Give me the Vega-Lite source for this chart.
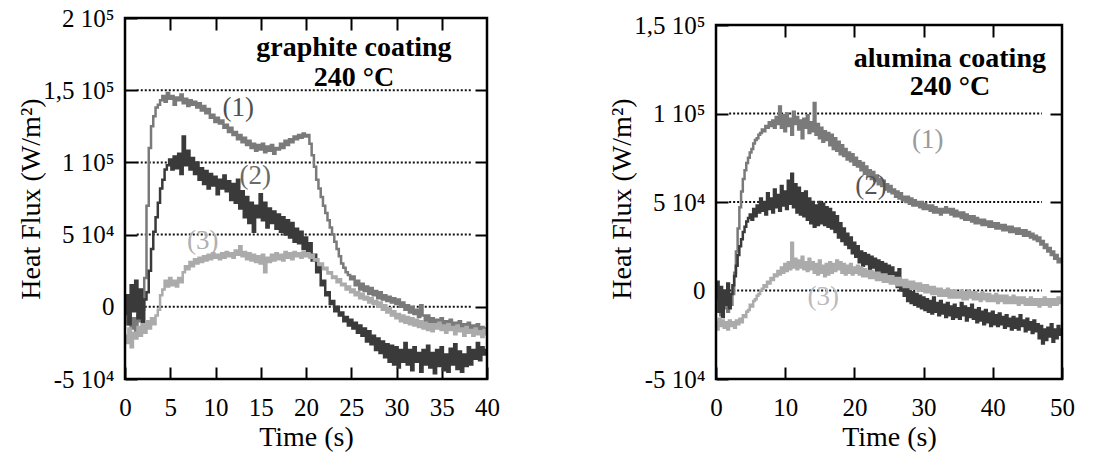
{
"$schema": "https://vega.github.io/schema/vega-lite/v6.json",
"padding": {"left": 17, "top": 6, "right": 2, "bottom": 2},
"spacing": 108,
"config": {
  "font": "Liberation Serif",
  "view": {"stroke": null},
  "axis": {"labelFont": "Liberation Serif", "titleFont": "Liberation Serif", "labelFontSize": 25, "titleFontSize": 28, "titleFontWeight": "normal", "labelColor": "black", "titleColor": "black", "tickColor": "black", "tickWidth": 2, "tickSize": -12, "domain": false, "grid": false, "labelFlush": false, "labelOverlap": false},
  "axisX": {"labelPadding": 28, "titlePadding": 3},
  "axisY": {"labelPadding": 23, "titlePadding": -3}
},
"datasets": {
"left": [
{"t":0,"a":-5e3,"b":-5e3,"c":-20e3},
{"t":0.25,"a":-12e3,"b":8e3,"c":-25e3},
{"t":0.5,"a":-3e3,"b":-12e3,"c":-15e3},
{"t":0.75,"a":-15e3,"b":15e3,"c":-28e3},
{"t":1,"a":-8e3,"b":-3e3,"c":-18e3},
{"t":1.25,"a":-18e3,"b":18e3,"c":-22e3},
{"t":1.5,"a":-6e3,"b":-8e3,"c":-14e3},
{"t":1.75,"a":-10e3,"b":12e3,"c":-20e3},
{"t":2,"a":-2e3,"b":-15e3,"c":-12e3},
{"t":2.25,"a":20e3,"b":5e3,"c":-18e3},
{"t":2.5,"a":70e3,"b":10e3,"c":-10e3},
{"t":2.75,"a":110e3,"b":25e3,"c":-15e3},
{"t":3,"a":125e3,"b":40e3,"c":-8e3},
{"t":3.25,"a":132e3,"b":52e3,"c":-12e3},
{"t":3.5,"a":138e3,"b":62e3,"c":-6e3},
{"t":3.75,"a":140e3,"b":72e3,"c":-2e3},
{"t":4,"a":143e3,"b":82e3,"c":8e3},
{"t":4.25,"a":146e3,"b":88e3,"c":12e3},
{"t":4.5,"a":142e3,"b":95e3,"c":18e3},
{"t":4.75,"a":148e3,"b":98e3,"c":14e3},
{"t":5,"a":144e3,"b":102e3,"c":20e3},
{"t":5.25,"a":146e3,"b":95e3,"c":15e3},
{"t":5.5,"a":140e3,"b":104e3,"c":18e3},
{"t":5.75,"a":145e3,"b":96e3,"c":14e3},
{"t":6,"a":143e3,"b":106e3,"c":20e3},
{"t":6.25,"a":147e3,"b":92e3,"c":17e3},
{"t":6.5,"a":141e3,"b":118e3,"c":24e3},
{"t":6.75,"a":144e3,"b":98e3,"c":28e3},
{"t":7,"a":139e3,"b":108e3,"c":26e3},
{"t":7.25,"a":143e3,"b":95e3,"c":31e3},
{"t":7.5,"a":140e3,"b":103e3,"c":28e3},
{"t":7.75,"a":142e3,"b":92e3,"c":33e3},
{"t":8,"a":138e3,"b":100e3,"c":30e3},
{"t":8.25,"a":141e3,"b":88e3,"c":34e3},
{"t":8.5,"a":136e3,"b":96e3,"c":31e3},
{"t":8.75,"a":139e3,"b":85e3,"c":35e3},
{"t":9,"a":134e3,"b":94e3,"c":32e3},
{"t":9.25,"a":137e3,"b":82e3,"c":36e3},
{"t":9.5,"a":131e3,"b":92e3,"c":33e3},
{"t":9.75,"a":133e3,"b":84e3,"c":37e3},
{"t":10,"a":128e3,"b":90e3,"c":34e3},
{"t":10.25,"a":131e3,"b":78e3,"c":36e3},
{"t":10.5,"a":127e3,"b":88e3,"c":33e3},
{"t":10.75,"a":129e3,"b":82e3,"c":37e3},
{"t":11,"a":124e3,"b":91e3,"c":34e3},
{"t":11.25,"a":126e3,"b":80e3,"c":38e3},
{"t":11.5,"a":121e3,"b":87e3,"c":35e3},
{"t":11.75,"a":124e3,"b":74e3,"c":37e3},
{"t":12,"a":119e3,"b":85e3,"c":34e3},
{"t":12.25,"a":121e3,"b":72e3,"c":39e3},
{"t":12.5,"a":116e3,"b":88e3,"c":36e3},
{"t":12.75,"a":119e3,"b":68e3,"c":42e3},
{"t":13,"a":114e3,"b":80e3,"c":35e3},
{"t":13.25,"a":117e3,"b":62e3,"c":38e3},
{"t":13.5,"a":112e3,"b":76e3,"c":33e3},
{"t":13.75,"a":115e3,"b":58e3,"c":37e3},
{"t":14,"a":110e3,"b":72e3,"c":32e3},
{"t":14.25,"a":113e3,"b":52e3,"c":36e3},
{"t":14.5,"a":108e3,"b":70e3,"c":31e3},
{"t":14.75,"a":112e3,"b":62e3,"c":35e3},
{"t":15,"a":109e3,"b":78e3,"c":30e3},
{"t":15.25,"a":113e3,"b":60e3,"c":36e3},
{"t":15.5,"a":107e3,"b":72e3,"c":24e3},
{"t":15.75,"a":111e3,"b":55e3,"c":34e3},
{"t":16,"a":108e3,"b":68e3,"c":31e3},
{"t":16.25,"a":112e3,"b":58e3,"c":36e3},
{"t":16.5,"a":106e3,"b":66e3,"c":32e3},
{"t":16.75,"a":110e3,"b":54e3,"c":37e3},
{"t":17,"a":109e3,"b":64e3,"c":33e3},
{"t":17.25,"a":113e3,"b":52e3,"c":36e3},
{"t":17.5,"a":110e3,"b":62e3,"c":32e3},
{"t":17.75,"a":115e3,"b":50e3,"c":38e3},
{"t":18,"a":112e3,"b":60e3,"c":34e3},
{"t":18.25,"a":116e3,"b":48e3,"c":37e3},
{"t":18.5,"a":114e3,"b":58e3,"c":33e3},
{"t":18.75,"a":118e3,"b":45e3,"c":38e3},
{"t":19,"a":116e3,"b":54e3,"c":35e3},
{"t":19.25,"a":119e3,"b":44e3,"c":37e3},
{"t":19.5,"a":117e3,"b":52e3,"c":34e3},
{"t":19.75,"a":120e3,"b":40e3,"c":38e3},
{"t":20,"a":118e3,"b":48e3,"c":35e3},
{"t":20.25,"a":119e3,"b":38e3,"c":37e3},
{"t":20.5,"a":113e3,"b":44e3,"c":34e3},
{"t":20.75,"a":105e3,"b":32e3,"c":36e3},
{"t":21,"a":97e3,"b":36e3,"c":32e3},
{"t":21.25,"a":88e3,"b":24e3,"c":33e3},
{"t":21.5,"a":82e3,"b":28e3,"c":29e3},
{"t":21.75,"a":76e3,"b":15e3,"c":30e3},
{"t":22,"a":70e3,"b":18e3,"c":26e3},
{"t":22.25,"a":65e3,"b":8e3,"c":27e3},
{"t":22.5,"a":60e3,"b":10e3,"c":23e3},
{"t":22.75,"a":55e3,"b":2e3,"c":24e3},
{"t":23,"a":50e3,"b":4e3,"c":20e3},
{"t":23.25,"a":45e3,"b":-3e3,"c":21e3},
{"t":23.5,"a":40e3,"b":0,"c":17e3},
{"t":23.75,"a":35e3,"b":-6e3,"c":19e3},
{"t":24,"a":30e3,"b":-4e3,"c":15e3},
{"t":24.25,"a":27e3,"b":-10e3,"c":16e3},
{"t":24.5,"a":24e3,"b":-7e3,"c":12e3},
{"t":24.75,"a":22e3,"b":-13e3,"c":14e3},
{"t":25,"a":19e3,"b":-9e3,"c":10e3},
{"t":25.25,"a":21e3,"b":-15e3,"c":12e3},
{"t":25.5,"a":15e3,"b":-11e3,"c":8e3},
{"t":25.75,"a":18e3,"b":-18e3,"c":10e3},
{"t":26,"a":12e3,"b":-13e3,"c":6e3},
{"t":26.25,"a":16e3,"b":-20e3,"c":9e3},
{"t":26.5,"a":11e3,"b":-15e3,"c":5e3},
{"t":26.75,"a":14e3,"b":-24e3,"c":7e3},
{"t":27,"a":9e3,"b":-17e3,"c":3e3},
{"t":27.25,"a":13e3,"b":-26e3,"c":6e3},
{"t":27.5,"a":8e3,"b":-20e3,"c":2e3},
{"t":27.75,"a":11e3,"b":-30e3,"c":4e3},
{"t":28,"a":6e3,"b":-22e3,"c":0},
{"t":28.25,"a":10e3,"b":-32e3,"c":3e3},
{"t":28.5,"a":5e3,"b":-24e3,"c":-2e3},
{"t":28.75,"a":8e3,"b":-35e3,"c":1e3},
{"t":29,"a":4e3,"b":-26e3,"c":-4e3},
{"t":29.25,"a":7e3,"b":-38e3,"c":-1e3},
{"t":29.5,"a":3e3,"b":-27e3,"c":-6e3},
{"t":29.75,"a":6e3,"b":-40e3,"c":-3e3},
{"t":30,"a":2e3,"b":-28e3,"c":-8e3},
{"t":30.25,"a":5e3,"b":-42e3,"c":-5e3},
{"t":30.5,"a":0,"b":-30e3,"c":-10e3},
{"t":30.75,"a":3e3,"b":-38e3,"c":-6e3},
{"t":31,"a":-2e3,"b":-25e3,"c":-11e3},
{"t":31.25,"a":1e3,"b":-40e3,"c":-7e3},
{"t":31.5,"a":-4e3,"b":-30e3,"c":-12e3},
{"t":31.75,"a":0,"b":-44e3,"c":-8e3},
{"t":32,"a":-5e3,"b":-28e3,"c":-13e3},
{"t":32.25,"a":-2e3,"b":-38e3,"c":-9e3},
{"t":32.5,"a":-7e3,"b":-32e3,"c":-14e3},
{"t":32.75,"a":1e3,"b":-45e3,"c":-10e3},
{"t":33,"a":-6e3,"b":-30e3,"c":-15e3},
{"t":33.25,"a":-10e3,"b":-40e3,"c":-11e3},
{"t":33.5,"a":-6e3,"b":-27e3,"c":-16e3},
{"t":33.75,"a":-11e3,"b":-42e3,"c":-12e3},
{"t":34,"a":-8e3,"b":-32e3,"c":-17e3},
{"t":34.25,"a":-12e3,"b":-46e3,"c":-12e3},
{"t":34.5,"a":-9e3,"b":-30e3,"c":-15e3},
{"t":34.75,"a":-13e3,"b":-41e3,"c":-11e3},
{"t":35,"a":-8e3,"b":-28e3,"c":-16e3},
{"t":35.25,"a":-12e3,"b":-44e3,"c":-13e3},
{"t":35.5,"a":-10e3,"b":-33e3,"c":-18e3},
{"t":35.75,"a":-14e3,"b":-45e3,"c":-12e3},
{"t":36,"a":-9e3,"b":-29e3,"c":-16e3},
{"t":36.25,"a":-13e3,"b":-40e3,"c":-14e3},
{"t":36.5,"a":-11e3,"b":-26e3,"c":-19e3},
{"t":36.75,"a":-15e3,"b":-43e3,"c":-13e3},
{"t":37,"a":-10e3,"b":-31e3,"c":-17e3},
{"t":37.25,"a":-14e3,"b":-45e3,"c":-15e3},
{"t":37.5,"a":-12e3,"b":-33e3,"c":-20e3},
{"t":37.75,"a":-16e3,"b":-41e3,"c":-14e3},
{"t":38,"a":-11e3,"b":-28e3,"c":-18e3},
{"t":38.25,"a":-15e3,"b":-40e3,"c":-16e3},
{"t":38.5,"a":-13e3,"b":-30e3,"c":-20e3},
{"t":38.75,"a":-17e3,"b":-36e3,"c":-15e3},
{"t":39,"a":-12e3,"b":-25e3,"c":-19e3},
{"t":39.25,"a":-16e3,"b":-37e3,"c":-17e3},
{"t":39.5,"a":-14e3,"b":-28e3,"c":-21e3},
{"t":39.75,"a":-18e3,"b":-33e3,"c":-16e3},
{"t":40,"a":-15e3,"b":-30e3,"c":-19e3}
],
"right": [
{"t":0,"a":-5e3,"b":-5e3,"c":-18e3},
{"t":0.25,"a":-12e3,"b":5e3,"c":-22e3},
{"t":0.5,"a":-3e3,"b":-12e3,"c":-16e3},
{"t":0.75,"a":-14e3,"b":2e3,"c":-20e3},
{"t":1,"a":-6e3,"b":-15e3,"c":-17e3},
{"t":1.25,"a":-10e3,"b":0,"c":-21e3},
{"t":1.5,"a":-2e3,"b":-8e3,"c":-18e3},
{"t":1.75,"a":-12e3,"b":4e3,"c":-22e3},
{"t":2,"a":-5e3,"b":-10e3,"c":-17e3},
{"t":2.25,"a":-8e3,"b":-2e3,"c":-20e3},
{"t":2.5,"a":-2e3,"b":3e3,"c":-18e3},
{"t":2.75,"a":10e3,"b":8e3,"c":-21e3},
{"t":3,"a":22e3,"b":14e3,"c":-17e3},
{"t":3.25,"a":35e3,"b":20e3,"c":-19e3},
{"t":3.5,"a":47e3,"b":25e3,"c":-16e3},
{"t":3.75,"a":56e3,"b":29e3,"c":-18e3},
{"t":4,"a":63e3,"b":33e3,"c":-14e3},
{"t":4.25,"a":68e3,"b":36e3,"c":-15e3},
{"t":4.5,"a":72e3,"b":39e3,"c":-12e3},
{"t":4.75,"a":75e3,"b":41e3,"c":-11e3},
{"t":5,"a":78e3,"b":43e3,"c":-8e3},
{"t":5.25,"a":80e3,"b":40e3,"c":-9e3},
{"t":5.5,"a":83e3,"b":46e3,"c":-6e3},
{"t":5.75,"a":85e3,"b":42e3,"c":-5e3},
{"t":6,"a":86e3,"b":48e3,"c":-3e3},
{"t":6.25,"a":88e3,"b":44e3,"c":-2e3},
{"t":6.5,"a":89e3,"b":52e3,"c":0},
{"t":6.75,"a":91e3,"b":45e3,"c":1e3},
{"t":7,"a":90e3,"b":50e3,"c":3e3},
{"t":7.25,"a":93e3,"b":43e3,"c":2e3},
{"t":7.5,"a":92e3,"b":55e3,"c":5e3},
{"t":7.75,"a":95e3,"b":46e3,"c":4e3},
{"t":8,"a":93e3,"b":52e3,"c":7e3},
{"t":8.25,"a":96e3,"b":44e3,"c":6e3},
{"t":8.5,"a":92e3,"b":57e3,"c":9e3},
{"t":8.75,"a":98e3,"b":47e3,"c":8e3},
{"t":9,"a":94e3,"b":54e3,"c":11e3},
{"t":9.25,"a":104e3,"b":45e3,"c":9e3},
{"t":9.5,"a":92e3,"b":59e3,"c":13e3},
{"t":9.75,"a":99e3,"b":48e3,"c":10e3},
{"t":10,"a":90e3,"b":56e3,"c":15e3},
{"t":10.25,"a":100e3,"b":46e3,"c":11e3},
{"t":10.5,"a":93e3,"b":62e3,"c":16e3},
{"t":10.75,"a":97e3,"b":49e3,"c":12e3},
{"t":11,"a":88e3,"b":66e3,"c":27e3},
{"t":11.25,"a":101e3,"b":47e3,"c":13e3},
{"t":11.5,"a":94e3,"b":60e3,"c":18e3},
{"t":11.75,"a":98e3,"b":44e3,"c":12e3},
{"t":12,"a":91e3,"b":58e3,"c":17e3},
{"t":12.25,"a":96e3,"b":43e3,"c":13e3},
{"t":12.5,"a":86e3,"b":55e3,"c":19e3},
{"t":12.75,"a":97e3,"b":42e3,"c":12e3},
{"t":13,"a":92e3,"b":56e3,"c":16e3},
{"t":13.25,"a":99e3,"b":40e3,"c":11e3},
{"t":13.5,"a":89e3,"b":52e3,"c":18e3},
{"t":13.75,"a":95e3,"b":38e3,"c":12e3},
{"t":14,"a":90e3,"b":50e3,"c":16e3},
{"t":14.25,"a":106e3,"b":36e3,"c":10e3},
{"t":14.5,"a":88e3,"b":48e3,"c":15e3},
{"t":14.75,"a":94e3,"b":37e3,"c":9e3},
{"t":15,"a":86e3,"b":50e3,"c":17e3},
{"t":15.25,"a":92e3,"b":38e3,"c":10e3},
{"t":15.5,"a":84e3,"b":49e3,"c":14e3},
{"t":15.75,"a":90e3,"b":37e3,"c":8e3},
{"t":16,"a":85e3,"b":47e3,"c":15e3},
{"t":16.25,"a":89e3,"b":36e3,"c":9e3},
{"t":16.5,"a":82e3,"b":46e3,"c":16e3},
{"t":16.75,"a":88e3,"b":35e3,"c":10e3},
{"t":17,"a":80e3,"b":44e3,"c":15e3},
{"t":17.25,"a":86e3,"b":33e3,"c":11e3},
{"t":17.5,"a":79e3,"b":42e3,"c":17e3},
{"t":17.75,"a":84e3,"b":30e3,"c":12e3},
{"t":18,"a":77e3,"b":38e3,"c":16e3},
{"t":18.25,"a":82e3,"b":28e3,"c":10e3},
{"t":18.5,"a":76e3,"b":35e3,"c":15e3},
{"t":18.75,"a":80e3,"b":26e3,"c":9e3},
{"t":19,"a":74e3,"b":32e3,"c":14e3},
{"t":19.25,"a":78e3,"b":24e3,"c":10e3},
{"t":19.5,"a":73e3,"b":30e3,"c":15e3},
{"t":19.75,"a":77e3,"b":21e3,"c":9e3},
{"t":20,"a":71e3,"b":27e3,"c":13e3},
{"t":20.25,"a":75e3,"b":19e3,"c":10e3},
{"t":20.5,"a":70e3,"b":25e3,"c":14e3},
{"t":20.75,"a":73e3,"b":16e3,"c":9e3},
{"t":21,"a":68e3,"b":22e3,"c":13e3},
{"t":21.25,"a":72e3,"b":14e3,"c":8e3},
{"t":21.5,"a":66e3,"b":21e3,"c":12e3},
{"t":21.75,"a":70e3,"b":15e3,"c":8e3},
{"t":22,"a":65e3,"b":20e3,"c":11e3},
{"t":22.25,"a":68e3,"b":12e3,"c":7e3},
{"t":22.5,"a":63e3,"b":19e3,"c":11e3},
{"t":22.75,"a":67e3,"b":13e3,"c":7e3},
{"t":23,"a":62e3,"b":18e3,"c":10e3},
{"t":23.25,"a":65e3,"b":11e3,"c":6e3},
{"t":23.5,"a":60e3,"b":17e3,"c":10e3},
{"t":23.75,"a":63e3,"b":9e3,"c":6e3},
{"t":24,"a":59e3,"b":16e3,"c":9e3},
{"t":24.25,"a":62e3,"b":10e3,"c":5e3},
{"t":24.5,"a":57e3,"b":15e3,"c":9e3},
{"t":24.75,"a":60e3,"b":8e3,"c":5e3},
{"t":25,"a":56e3,"b":14e3,"c":8e3},
{"t":25.25,"a":59e3,"b":6e3,"c":4e3},
{"t":25.5,"a":55e3,"b":13e3,"c":8e3},
{"t":25.75,"a":57e3,"b":7e3,"c":4e3},
{"t":26,"a":53e3,"b":10e3,"c":7e3},
{"t":26.25,"a":56e3,"b":2e3,"c":3e3},
{"t":26.5,"a":52e3,"b":12e3,"c":7e3},
{"t":26.75,"a":55e3,"b":0,"c":3e3},
{"t":27,"a":51e3,"b":5e3,"c":6e3},
{"t":27.25,"a":53e3,"b":-3e3,"c":2e3},
{"t":27.5,"a":50e3,"b":2e3,"c":6e3},
{"t":27.75,"a":53e3,"b":-6e3,"c":2e3},
{"t":28,"a":49e3,"b":1e3,"c":5e3},
{"t":28.25,"a":52e3,"b":-7e3,"c":1e3},
{"t":28.5,"a":48e3,"b":-1e3,"c":5e3},
{"t":28.75,"a":51e3,"b":-8e3,"c":1e3},
{"t":29,"a":48e3,"b":-2e3,"c":4e3},
{"t":29.25,"a":50e3,"b":-9e3,"c":0},
{"t":29.5,"a":47e3,"b":-3e3,"c":4e3},
{"t":29.75,"a":50e3,"b":-10e3,"c":0},
{"t":30,"a":46e3,"b":-4e3,"c":3e3},
{"t":30.25,"a":49e3,"b":-11e3,"c":-1e3},
{"t":30.5,"a":46e3,"b":-5e3,"c":3e3},
{"t":30.75,"a":48e3,"b":-12e3,"c":-1e3},
{"t":31,"a":45e3,"b":-6e3,"c":2e3},
{"t":31.25,"a":48e3,"b":-13e3,"c":-2e3},
{"t":31.5,"a":44e3,"b":-4e3,"c":2e3},
{"t":31.75,"a":47e3,"b":-12e3,"c":-2e3},
{"t":32,"a":44e3,"b":-7e3,"c":1e3},
{"t":32.25,"a":46e3,"b":-14e3,"c":-3e3},
{"t":32.5,"a":43e3,"b":-6e3,"c":1e3},
{"t":32.75,"a":46e3,"b":-13e3,"c":-3e3},
{"t":33,"a":44e3,"b":-8e3,"c":0},
{"t":33.25,"a":47e3,"b":-15e3,"c":-3e3},
{"t":33.5,"a":44e3,"b":-7e3,"c":1e3},
{"t":33.75,"a":46e3,"b":-14e3,"c":-4e3},
{"t":34,"a":43e3,"b":-9e3,"c":0},
{"t":34.25,"a":46e3,"b":-16e3,"c":-4e3},
{"t":34.5,"a":42e3,"b":-8e3,"c":0},
{"t":34.75,"a":45e3,"b":-15e3,"c":-4e3},
{"t":35,"a":42e3,"b":-10e3,"c":-1e3},
{"t":35.25,"a":44e3,"b":-16e3,"c":-4e3},
{"t":35.5,"a":41e3,"b":-7e3,"c":0},
{"t":35.75,"a":44e3,"b":-14e3,"c":-5e3},
{"t":36,"a":40e3,"b":-9e3,"c":-1e3},
{"t":36.25,"a":43e3,"b":-17e3,"c":-5e3},
{"t":36.5,"a":40e3,"b":-10e3,"c":0},
{"t":36.75,"a":42e3,"b":-15e3,"c":-4e3},
{"t":37,"a":39e3,"b":-8e3,"c":-1e3},
{"t":37.25,"a":42e3,"b":-16e3,"c":-5e3},
{"t":37.5,"a":38e3,"b":-11e3,"c":-1e3},
{"t":37.75,"a":41e3,"b":-18e3,"c":-5e3},
{"t":38,"a":38e3,"b":-10e3,"c":-2e3},
{"t":38.25,"a":40e3,"b":-17e3,"c":-6e3},
{"t":38.5,"a":37e3,"b":-12e3,"c":-1e3},
{"t":38.75,"a":40e3,"b":-19e3,"c":-5e3},
{"t":39,"a":37e3,"b":-11e3,"c":-2e3},
{"t":39.25,"a":39e3,"b":-18e3,"c":-6e3},
{"t":39.5,"a":36e3,"b":-13e3,"c":-2e3},
{"t":39.75,"a":39e3,"b":-20e3,"c":-6e3},
{"t":40,"a":36e3,"b":-12e3,"c":-3e3},
{"t":40.25,"a":38e3,"b":-19e3,"c":-6e3},
{"t":40.5,"a":35e3,"b":-14e3,"c":-2e3},
{"t":40.75,"a":38e3,"b":-20e3,"c":-7e3},
{"t":41,"a":35e3,"b":-13e3,"c":-3e3},
{"t":41.25,"a":37e3,"b":-19e3,"c":-6e3},
{"t":41.5,"a":34e3,"b":-15e3,"c":-3e3},
{"t":41.75,"a":37e3,"b":-21e3,"c":-7e3},
{"t":42,"a":34e3,"b":-14e3,"c":-3e3},
{"t":42.25,"a":36e3,"b":-20e3,"c":-7e3},
{"t":42.5,"a":33e3,"b":-16e3,"c":-4e3},
{"t":42.75,"a":36e3,"b":-22e3,"c":-7e3},
{"t":43,"a":33e3,"b":-15e3,"c":-3e3},
{"t":43.25,"a":35e3,"b":-21e3,"c":-7e3},
{"t":43.5,"a":32e3,"b":-16e3,"c":-4e3},
{"t":43.75,"a":35e3,"b":-22e3,"c":-8e3},
{"t":44,"a":32e3,"b":-14e3,"c":-4e3},
{"t":44.25,"a":34e3,"b":-20e3,"c":-7e3},
{"t":44.5,"a":31e3,"b":-17e3,"c":-4e3},
{"t":44.75,"a":34e3,"b":-23e3,"c":-8e3},
{"t":45,"a":31e3,"b":-16e3,"c":-5e3},
{"t":45.25,"a":33e3,"b":-22e3,"c":-8e3},
{"t":45.5,"a":30e3,"b":-18e3,"c":-4e3},
{"t":45.75,"a":32e3,"b":-24e3,"c":-8e3},
{"t":46,"a":29e3,"b":-17e3,"c":-5e3},
{"t":46.25,"a":31e3,"b":-23e3,"c":-8e3},
{"t":46.5,"a":28e3,"b":-19e3,"c":-5e3},
{"t":46.75,"a":30e3,"b":-27e3,"c":-9e3},
{"t":47,"a":26e3,"b":-20e3,"c":-5e3},
{"t":47.25,"a":28e3,"b":-30e3,"c":-8e3},
{"t":47.5,"a":24e3,"b":-22e3,"c":-4e3},
{"t":47.75,"a":26e3,"b":-28e3,"c":-8e3},
{"t":48,"a":22e3,"b":-21e3,"c":-5e3},
{"t":48.25,"a":24e3,"b":-26e3,"c":-9e3},
{"t":48.5,"a":20e3,"b":-19e3,"c":-5e3},
{"t":48.75,"a":22e3,"b":-29e3,"c":-8e3},
{"t":49,"a":18e3,"b":-22e3,"c":-5e3},
{"t":49.25,"a":20e3,"b":-27e3,"c":-8e3},
{"t":49.5,"a":16e3,"b":-20e3,"c":-4e3},
{"t":49.75,"a":18e3,"b":-25e3,"c":-7e3},
{"t":50,"a":16e3,"b":-22e3,"c":-5e3}
]
},
"hconcat": [
{
  "width": 362, "height": 361,
  "resolve": {"axis": {"x": "independent", "y": "independent"}},
  "layer": [
    {
      "data": {"values": [{"g": 0}, {"g": 50000}, {"g": 100000}, {"g": 150000}]},
      "mark": {"type": "rule", "color": "#111111", "strokeWidth": 2, "strokeDash": [2, 2]},
      "encoding": {
        "y": {"field": "g", "type": "quantitative", "scale": {"domain": [-50000, 200000], "nice": false, "zero": false},
              "axis": {"orient": "left", "values": [-50000, 0, 50000, 100000, 150000, 200000], "title": "Heat Flux (W/m²)",
                       "labelExpr": "datum.value == 0 ? '0' : datum.value == 50000 ? '5 10⁴' : datum.value == 100000 ? '1 10⁵' : datum.value == 150000 ? '1,5 10⁵' : datum.value == 200000 ? '2 10⁵' : '-5 10⁴'"}},
        "x": {"datum": 1.3, "type": "quantitative", "scale": {"domain": [0, 40], "nice": false, "zero": false},
              "axis": {"orient": "bottom", "values": [0, 5, 10, 15, 20, 25, 30, 35, 40], "title": "Time (s)", "format": "d"}},
        "x2": {"datum": 38.3}
      }
    },
    {
      "data": {"name": "left"},
      "transform": [{"fold": ["a", "b", "c"], "as": ["s", "v"]}],
      "mark": {"type": "line", "strokeWidth": 2.5, "interpolate": "step"},
      "encoding": {
        "x": {"field": "t", "type": "quantitative", "axis": null},
        "y": {"field": "v", "type": "quantitative", "axis": null},
        "color": {"field": "s", "type": "nominal", "scale": {"domain": ["a", "b", "c"], "range": ["#7a7a7a", "#3a3a3a", "#ababab"]}, "legend": null}
      }
    },
    {
      "data": {"values": [{}]},
      "mark": {"type": "rect", "fill": "white", "fillOpacity": 0, "stroke": "black", "strokeWidth": 2.5},
      "encoding": {
        "x": {"datum": 0, "type": "quantitative", "axis": {"orient": "top", "values": [5, 10, 15, 20, 25, 30, 35], "labels": false, "title": null}},
        "x2": {"datum": 40},
        "y": {"datum": -50000, "type": "quantitative", "axis": {"orient": "right", "values": [0, 50000, 100000, 150000], "labels": false, "title": null}},
        "y2": {"datum": 200000}
      }
    },
    {
      "data": {"values": [{}]},
      "mark": {"type": "text", "text": ["graphite coating", "240 °C"], "font": "Liberation Serif", "fontWeight": "bold", "fontSize": 28, "lineHeight": 30, "align": "center", "baseline": "alphabetic", "color": "black"},
      "encoding": {"x": {"datum": 25.3, "type": "quantitative", "axis": null}, "y": {"datum": 174000, "type": "quantitative", "axis": null}}
    },
    {
      "data": {"values": [{}]},
      "mark": {"type": "text", "text": "(1)", "font": "Liberation Serif", "fontSize": 27, "align": "center", "baseline": "middle", "color": "#505050"},
      "encoding": {"x": {"datum": 12.5, "type": "quantitative", "axis": null}, "y": {"datum": 138000, "type": "quantitative", "axis": null}}
    },
    {
      "data": {"values": [{}]},
      "mark": {"type": "text", "text": "(2)", "font": "Liberation Serif", "fontSize": 27, "align": "center", "baseline": "middle", "color": "#6a6a6a"},
      "encoding": {"x": {"datum": 14.4, "type": "quantitative", "axis": null}, "y": {"datum": 90400, "type": "quantitative", "axis": null}}
    },
    {
      "data": {"values": [{}]},
      "mark": {"type": "text", "text": "(3)", "font": "Liberation Serif", "fontSize": 27, "align": "center", "baseline": "middle", "color": "#b0b0b0"},
      "encoding": {"x": {"datum": 8.6, "type": "quantitative", "axis": null}, "y": {"datum": 45900, "type": "quantitative", "axis": null}}
    }
  ]
},
{
  "width": 346, "height": 361,
  "resolve": {"axis": {"x": "independent", "y": "independent"}},
  "layer": [
    {
      "data": {"values": [{"g": 0}, {"g": 50000}, {"g": 100000}]},
      "mark": {"type": "rule", "color": "#111111", "strokeWidth": 2, "strokeDash": [2, 2]},
      "encoding": {
        "y": {"field": "g", "type": "quantitative", "scale": {"domain": [-50000, 153955], "nice": false, "zero": false},
              "axis": {"orient": "left", "values": [-50000, 0, 50000, 100000, 150000], "title": "Heat Flux (W/m²)",
                       "labelExpr": "datum.value == 0 ? '0' : datum.value == 50000 ? '5 10⁴' : datum.value == 100000 ? '1 10⁵' : datum.value == 150000 ? '1,5 10⁵' : datum.value == 200000 ? '2 10⁵' : '-5 10⁴'"}},
        "x": {"datum": 1.9, "type": "quantitative", "scale": {"domain": [0, 50], "nice": false, "zero": false},
              "axis": {"orient": "bottom", "values": [0, 10, 20, 30, 40, 50], "title": "Time (s)", "format": "d"}},
        "x2": {"datum": 47.1}
      }
    },
    {
      "data": {"name": "right"},
      "transform": [{"fold": ["a", "b", "c"], "as": ["s", "v"]}],
      "mark": {"type": "line", "strokeWidth": 2.5, "interpolate": "step"},
      "encoding": {
        "x": {"field": "t", "type": "quantitative", "axis": null},
        "y": {"field": "v", "type": "quantitative", "axis": null},
        "color": {"field": "s", "type": "nominal", "scale": {"domain": ["a", "b", "c"], "range": ["#7a7a7a", "#3a3a3a", "#ababab"]}, "legend": null}
      }
    },
    {
      "data": {"values": [{}]},
      "mark": {"type": "rect", "fill": "white", "fillOpacity": 0, "stroke": "black", "strokeWidth": 2.5},
      "encoding": {
        "x": {"datum": 0, "type": "quantitative", "axis": {"orient": "top", "values": [10, 20, 30, 40], "labels": false, "title": null, "offset": -7}},
        "x2": {"datum": 50},
        "y": {"datum": -50000, "type": "quantitative", "axis": {"orient": "right", "values": [0, 50000, 100000], "labels": false, "title": null}},
        "y2": {"datum": 150000}
      }
    },
    {
      "data": {"values": [{}]},
      "mark": {"type": "text", "text": ["alumina coating", "240 °C"], "font": "Liberation Serif", "fontWeight": "bold", "fontSize": 28, "lineHeight": 28, "align": "center", "baseline": "alphabetic", "color": "black"},
      "encoding": {"x": {"datum": 33.8, "type": "quantitative", "axis": null}, "y": {"datum": 126500, "type": "quantitative", "axis": null}}
    },
    {
      "data": {"values": [{}]},
      "mark": {"type": "text", "text": "(1)", "font": "Liberation Serif", "fontSize": 27, "align": "center", "baseline": "middle", "color": "#9a9a9a"},
      "encoding": {"x": {"datum": 30.6, "type": "quantitative", "axis": null}, "y": {"datum": 85300, "type": "quantitative", "axis": null}}
    },
    {
      "data": {"values": [{}]},
      "mark": {"type": "text", "text": "(2)", "font": "Liberation Serif", "fontSize": 27, "align": "center", "baseline": "middle", "color": "#555555"},
      "encoding": {"x": {"datum": 22.4, "type": "quantitative", "axis": null}, "y": {"datum": 58800, "type": "quantitative", "axis": null}}
    },
    {
      "data": {"values": [{}]},
      "mark": {"type": "text", "text": "(3)", "font": "Liberation Serif", "fontSize": 27, "align": "center", "baseline": "middle", "color": "#bbbbbb"},
      "encoding": {"x": {"datum": 15.5, "type": "quantitative", "axis": null}, "y": {"datum": -3400, "type": "quantitative", "axis": null}}
    }
  ]
}
]
}
